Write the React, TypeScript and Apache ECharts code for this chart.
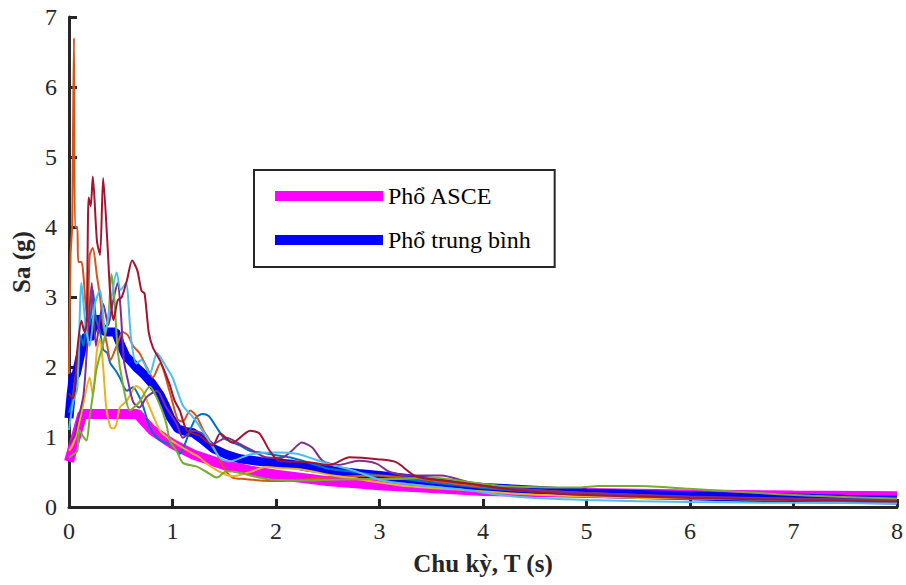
import React, { useEffect, useRef } from "react";
import * as echarts from "echarts";

const X_TICKS = [0, 1, 2, 3, 4, 5, 6, 7, 8];
const Y_TICKS = [0, 1, 2, 3, 4, 5, 6, 7];
const X_TITLE = "Chu kỳ, T (s)";
const Y_TITLE = "Sa (g)";
const ASCE_NAME = "Phổ ASCE";
const MEAN_NAME = "Phổ trung bình";

const asce: number[][] = [
  [0, 0.65], [0.13, 1.33], [0.66, 1.33], [0.8, 1.1], [1.0, 0.9], [1.2, 0.75], [1.5, 0.6],
  [1.75, 0.52], [2.0, 0.46], [2.5, 0.37], [3.0, 0.31], [3.5, 0.27], [4.0, 0.23], [4.5, 0.215],
  [5, 0.2], [6, 0.18], [7, 0.165], [8, 0.155],
];

const mean: number[][] = [
  [0, 1.27], [0.02, 1.6], [0.04, 1.85], [0.07, 1.9], [0.1, 2.1], [0.13, 2.3], [0.17, 2.45],
  [0.2, 2.4], [0.24, 2.6], [0.27, 2.72], [0.3, 2.6], [0.35, 2.5], [0.4, 2.5], [0.45, 2.5],
  [0.49, 2.35], [0.55, 2.15], [0.6, 2.08], [0.66, 1.98], [0.72, 1.9], [0.8, 1.77], [0.88, 1.6],
  [0.93, 1.45], [0.98, 1.28], [1.05, 1.12], [1.12, 1.08], [1.2, 1.06], [1.3, 0.95], [1.4, 0.83],
  [1.52, 0.75], [1.65, 0.69], [1.85, 0.65], [2.0, 0.63], [2.16, 0.61], [2.3, 0.57], [2.55, 0.52],
  [2.8, 0.48], [3.0, 0.45], [3.25, 0.41], [3.5, 0.37], [3.75, 0.32], [4.0, 0.28], [4.5, 0.24],
  [5, 0.2], [5.5, 0.18], [6, 0.16], [6.5, 0.14], [7, 0.13], [7.5, 0.11], [8, 0.1],
];

const rec1: number[][] = [
  [0, 1.35], [0.03, 1.5], [0.06, 1.85], [0.09, 2.0], [0.11, 2.45], [0.14, 2.3], [0.17, 2.7],
  [0.2, 2.6], [0.23, 3.1], [0.26, 2.7], [0.3, 2.5], [0.33, 2.25], [0.37, 2.2], [0.4, 2.05],
  [0.45, 1.95], [0.49, 1.85], [0.56, 1.66], [0.62, 1.71], [0.67, 1.6], [0.71, 1.47], [0.78, 1.14],
  [0.85, 0.99], [0.92, 0.92], [0.97, 0.9], [1.03, 0.82], [1.07, 0.76], [1.12, 0.9], [1.17, 1.1],
  [1.23, 1.28], [1.29, 1.33], [1.35, 1.3], [1.42, 1.15], [1.5, 0.98], [1.58, 0.92], [1.65, 0.88],
  [1.75, 0.8], [1.85, 0.78], [2.0, 0.74], [2.16, 0.7], [2.3, 0.64], [2.5, 0.55], [2.75, 0.5],
  [3.0, 0.45], [3.25, 0.4], [3.5, 0.35], [3.75, 0.31], [4.0, 0.27], [4.5, 0.22], [5, 0.18],
  [5.5, 0.15], [6, 0.13], [6.5, 0.11], [7, 0.1], [7.5, 0.09], [8, 0.08],
];

const rec2: number[][] = [
  [0, 1.9], [0.015, 3.6], [0.03, 4.0], [0.048, 6.7], [0.058, 4.0], [0.08, 4.0], [0.09, 3.5],
  [0.12, 3.5], [0.14, 3.3], [0.16, 2.9], [0.18, 2.7], [0.2, 3.6], [0.23, 3.7], [0.27, 3.3],
  [0.3, 3.0], [0.33, 2.6], [0.37, 2.3], [0.4, 2.1], [0.46, 2.3], [0.52, 2.5], [0.57, 2.45],
  [0.62, 2.3], [0.68, 2.2], [0.75, 2.0], [0.81, 1.85], [0.88, 2.05], [0.97, 1.66], [1.05, 1.25],
  [1.1, 1.22], [1.17, 1.38], [1.23, 1.3], [1.3, 1.09], [1.36, 0.95], [1.43, 0.76], [1.5, 0.55],
  [1.58, 0.42], [1.7, 0.4], [1.84, 0.38], [2.0, 0.37], [2.16, 0.38], [2.5, 0.42], [2.75, 0.44],
  [3.0, 0.45], [3.25, 0.42], [3.5, 0.38], [3.75, 0.33], [4.0, 0.29], [4.5, 0.24], [5, 0.2],
  [5.5, 0.17], [6, 0.14], [6.5, 0.12], [7, 0.11], [7.5, 0.1], [8, 0.09],
];

const rec3: number[][] = [
  [0, 0.8], [0.04, 0.9], [0.08, 1.09], [0.14, 1.48], [0.2, 1.85], [0.23, 1.6], [0.27, 2.24],
  [0.3, 2.4], [0.33, 2.0], [0.36, 1.42], [0.4, 1.14], [0.43, 1.12], [0.46, 1.19], [0.49, 1.42],
  [0.56, 1.52], [0.65, 1.73], [0.71, 1.66], [0.78, 1.42], [0.88, 1.09], [0.96, 0.98], [1.04, 0.9],
  [1.2, 0.76], [1.26, 0.71], [1.33, 0.62], [1.46, 0.5], [1.58, 0.44], [1.75, 0.5], [1.9, 0.57],
  [2.0, 0.56], [2.23, 0.54], [2.55, 0.45], [2.87, 0.38], [3.19, 0.31], [3.5, 0.27], [3.84, 0.24],
  [4.32, 0.19], [5, 0.15], [5.5, 0.13], [6, 0.12], [7, 0.1], [8, 0.08],
];

const rec4: number[][] = [
  [0, 0.9], [0.05, 1.0], [0.08, 1.2], [0.14, 1.6], [0.18, 2.4], [0.22, 3.2], [0.26, 2.3],
  [0.3, 2.7], [0.33, 2.9], [0.38, 2.6], [0.42, 2.9], [0.47, 3.2], [0.5, 2.8], [0.53, 2.1],
  [0.57, 1.8], [0.62, 1.5], [0.68, 1.42], [0.75, 1.57], [0.85, 1.66], [0.94, 1.42], [1.04, 1.19],
  [1.1, 0.99], [1.2, 1.09], [1.29, 1.05], [1.39, 0.9], [1.52, 0.99], [1.65, 0.9], [1.78, 0.8],
  [1.9, 0.71], [2.05, 0.7], [2.15, 0.8], [2.25, 0.92], [2.35, 0.85], [2.45, 0.66], [2.6, 0.6],
  [2.8, 0.66], [2.97, 0.62], [3.1, 0.5], [3.3, 0.45], [3.6, 0.45], [3.8, 0.38], [4.0, 0.3],
  [4.3, 0.26], [5, 0.2], [6, 0.15], [7, 0.12], [8, 0.1],
];

const rec5: number[][] = [
  [0, 0.71], [0.04, 0.75], [0.08, 0.8], [0.1, 1.1], [0.14, 1.0], [0.17, 0.95], [0.2, 1.28],
  [0.24, 1.7], [0.27, 2.0], [0.33, 2.33], [0.38, 2.7], [0.41, 3.33], [0.44, 2.95], [0.47, 2.24],
  [0.52, 1.76], [0.59, 1.38], [0.68, 1.5], [0.78, 1.72], [0.88, 1.45], [0.94, 1.19], [0.98, 0.92],
  [1.04, 0.8], [1.1, 0.63], [1.23, 0.58], [1.33, 0.5], [1.43, 0.42], [1.52, 0.51], [1.65, 0.49],
  [1.81, 0.43], [1.97, 0.39], [2.29, 0.38], [2.55, 0.39], [2.9, 0.4], [3.19, 0.4], [3.5, 0.42],
  [3.84, 0.36], [4.2, 0.3], [4.64, 0.28], [4.93, 0.28], [5.12, 0.3], [5.5, 0.3], [5.99, 0.26],
  [6.54, 0.21], [7.17, 0.16], [8, 0.12],
];

const rec6: number[][] = [
  [0, 1.1], [0.04, 1.5], [0.08, 1.7], [0.12, 3.2], [0.16, 2.6], [0.2, 2.3], [0.25, 2.9],
  [0.3, 3.1], [0.35, 2.5], [0.4, 2.9], [0.46, 3.35], [0.5, 3.1], [0.55, 3.2], [0.6, 2.4],
  [0.65, 2.05], [0.7, 2.1], [0.78, 1.9], [0.85, 2.2], [0.94, 2.0], [1.0, 1.85], [1.1, 1.45],
  [1.2, 1.28], [1.33, 1.0], [1.46, 0.7], [1.55, 0.65], [1.75, 0.75], [2.0, 0.78], [2.2, 0.76],
  [2.5, 0.62], [2.75, 0.52], [3.0, 0.39], [3.2, 0.34], [3.8, 0.25], [4.3, 0.15], [5, 0.1],
  [6, 0.07], [7, 0.06], [8, 0.05],
];

const rec7: number[][] = [
  [0, 1.62], [0.04, 1.55], [0.08, 2.24], [0.12, 2.66], [0.15, 2.5], [0.17, 2.6], [0.19, 4.42],
  [0.21, 4.3], [0.23, 4.72], [0.27, 3.8], [0.3, 3.6], [0.33, 4.7], [0.37, 3.8], [0.4, 3.0],
  [0.43, 2.67], [0.47, 2.95], [0.51, 3.0], [0.56, 3.24], [0.61, 3.52], [0.66, 3.38], [0.7, 3.09],
  [0.73, 3.05], [0.77, 2.5], [0.81, 2.28], [0.88, 2.09], [0.97, 1.76], [1.02, 1.52], [1.07, 1.38],
  [1.14, 1.09], [1.26, 1.02], [1.39, 0.88], [1.46, 1.05], [1.58, 0.92], [1.75, 1.09], [1.84, 1.05],
  [1.94, 0.8], [2.03, 0.66], [2.32, 0.64], [2.52, 0.6], [2.71, 0.71], [3.0, 0.68], [3.16, 0.64],
  [3.35, 0.44], [3.6, 0.38], [3.84, 0.34], [4.32, 0.24], [5, 0.17], [6, 0.13], [7, 0.1], [8, 0.08],
];

const records = [rec1, rec2, rec3, rec4, rec5, rec6, rec7];
const recordColors = ["#0072BD", "#D95319", "#EDB120", "#7E2F8E", "#77AC30", "#4DBEEE", "#A2142F"];

const FONT = "'Liberation Serif', 'Times New Roman', serif";
const INK = "#262626";

export default function App() {
  const ref = useRef<HTMLDivElement>(null);
  useEffect(() => {
    document.body.style.margin = "0";
    if (!ref.current) return;
    const chart = echarts.init(ref.current, undefined, { renderer: "svg" });
    const thin = records.map((d, i) => ({
      name: `Record ${i + 1}`,
      type: "line",
      data: d,
      showSymbol: false,
      smooth: 0.25,
      z: 3,
      lineStyle: { color: recordColors[i], width: 2 },
      itemStyle: { color: recordColors[i] },
    }));
    chart.setOption({
      animation: false,
      backgroundColor: "#ffffff",
      grid: { left: 69, right: 8, top: 17, bottom: 78 },
      legend: {
        data: [ASCE_NAME, MEAN_NAME],
        orient: "vertical",
        left: 254,
        top: 170,
        icon: "rect",
        itemWidth: 108,
        itemHeight: 10,
        itemGap: 20,
        padding: [14, 24, 15, 21],
        backgroundColor: "#ffffff",
        borderColor: INK,
        borderWidth: 2,
        borderRadius: 0,
        textStyle: { fontFamily: FONT, fontSize: 24, color: "#000", padding: [0, 0, 0, 0], lineHeight: 24 },
      },
      xAxis: {
        type: "value",
        min: 0,
        max: 8,
        interval: 1,
        name: X_TITLE,
        nameLocation: "middle",
        nameGap: 44,
        nameTextStyle: { fontFamily: FONT, fontSize: 25, fontWeight: "bold", color: INK },
        axisLine: { lineStyle: { color: INK, width: 3 } },
        axisTick: { inside: true, length: 8, lineStyle: { color: INK, width: 3 } },
        axisLabel: {
          fontFamily: FONT, fontSize: 24, color: INK, margin: 12,
          formatter: (v: number) => (X_TICKS.includes(v) ? String(v) : ""),
        },
        splitLine: { show: false },
      },
      yAxis: {
        type: "value",
        min: 0,
        max: 7,
        interval: 1,
        name: Y_TITLE,
        nameLocation: "middle",
        nameGap: 34,
        nameRotate: 90,
        nameTextStyle: { fontFamily: FONT, fontSize: 25, fontWeight: "bold", color: INK },
        axisLine: { show: true, lineStyle: { color: INK, width: 3 } },
        axisTick: { show: true, inside: true, length: 8, lineStyle: { color: INK, width: 3 } },
        axisLabel: {
          fontFamily: FONT, fontSize: 24, color: INK, margin: 12,
          formatter: (v: number) => (Y_TICKS.includes(v) ? String(v) : ""),
        },
        splitLine: { show: false },
      },
      series: [
        {
          name: ASCE_NAME,
          type: "line",
          data: asce,
          showSymbol: false,
          z: 1,
          lineStyle: { color: "#FF00FF", width: 10 },
          itemStyle: { color: "#FF00FF" },
        },
        {
          name: MEAN_NAME,
          type: "line",
          data: mean,
          showSymbol: false,
          z: 2,
          lineStyle: { color: "#0000FF", width: 9 },
          itemStyle: { color: "#0000FF" },
        },
        ...thin,
      ],
    });
    return () => chart.dispose();
  }, []);
  return <div ref={ref} style={{ width: 906, height: 585 }} />;
}
